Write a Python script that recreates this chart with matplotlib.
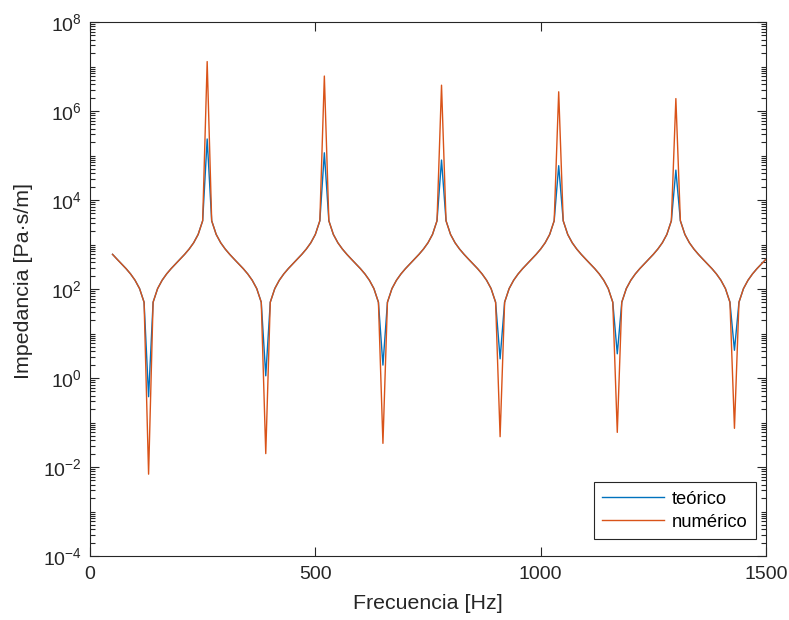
import numpy as np
import matplotlib
matplotlib.use("Agg")
import matplotlib.pyplot as plt
from matplotlib.ticker import FixedLocator, FixedFormatter, NullFormatter, LogLocator

plt.rcParams['font.family'] = ['Liberation Sans', 'DejaVu Sans']
plt.rcParams['mathtext.fontset'] = 'custom'
plt.rcParams['mathtext.rm'] = 'Liberation Sans'
plt.rcParams['mathtext.it'] = 'Liberation Sans'
plt.rcParams['mathtext.default'] = 'regular'

# Frequency grid (Hz), sampled every 10 Hz from 50 to 1500
frecuencia = np.arange(50, 1501, 10)

# Teórico
teorico = [
    601, 468, 368, 287, 218, 157, 102, 50.4, 0.38, 50.4, 102, 157, 218, 287, 368, 468, 601, 791, 1094, 1684, 3418,
    2.35e5, 3418, 1684, 1094, 791, 601, 468, 368, 287, 218, 157, 102, 50.4, 1.12, 50.4, 102, 157, 218, 287, 368, 468, 601, 791, 1094, 1684, 3418,
    1.15e5, 3418, 1684, 1094, 791, 601, 468, 368, 287, 218, 157, 102, 50.4, 1.95, 50.4, 102, 157, 218, 287, 368, 468, 601, 791, 1094, 1684, 3418,
    7.9e4, 3418, 1684, 1094, 791, 601, 468, 368, 287, 218, 157, 102, 50.4, 2.7, 50.4, 102, 157, 218, 287, 368, 468, 601, 791, 1094, 1684, 3418,
    5.9e4, 3418, 1684, 1094, 791, 601, 468, 368, 287, 218, 157, 102, 50.4, 3.5, 50.4, 102, 157, 218, 287, 368, 468, 601, 791, 1094, 1684, 3418,
    4.7e4, 3418, 1684, 1094, 791, 601, 468, 368, 287, 218, 157, 102, 50.4, 4.2, 50.4, 102, 157, 218, 287, 368, 468,
]

# Numérico
numerico = [
    601, 468, 368, 287, 218, 157, 102, 50.4, 0.0069, 50.4, 102, 157, 218, 287, 368, 468, 601, 791, 1094, 1684, 3418,
    1.29e7, 3418, 1684, 1094, 791, 601, 468, 368, 287, 218, 157, 102, 50.4, 0.020, 50.4, 102, 157, 218, 287, 368, 468, 601, 791, 1094, 1684, 3418,
    6.1e6, 3418, 1684, 1094, 791, 601, 468, 368, 287, 218, 157, 102, 50.4, 0.034, 50.4, 102, 157, 218, 287, 368, 468, 601, 791, 1094, 1684, 3418,
    3.8e6, 3418, 1684, 1094, 791, 601, 468, 368, 287, 218, 157, 102, 50.4, 0.048, 50.4, 102, 157, 218, 287, 368, 468, 601, 791, 1094, 1684, 3418,
    2.7e6, 3418, 1684, 1094, 791, 601, 468, 368, 287, 218, 157, 102, 50.4, 0.060, 50.4, 102, 157, 218, 287, 368, 468, 601, 791, 1094, 1684, 3418,
    1.9e6, 3418, 1684, 1094, 791, 601, 468, 368, 287, 218, 157, 102, 50.4, 0.074, 50.4, 102, 157, 218, 287, 368, 468,
]

series_labels = ['teórico', 'numérico']
xticks = [0, 500, 1000, 1500]
yticks = [1e-4, 1e-2, 1e0, 1e2, 1e4, 1e6, 1e8]
ytick_labels = [r'$10^{-4}$', r'$10^{-2}$', r'$10^{0}$', r'$10^{2}$', r'$10^{4}$', r'$10^{6}$', r'$10^{8}$']

axcol = '#262626'
fig = plt.figure(figsize=(7.89, 6.20), dpi=100)
ax = fig.add_axes([90/789, 64/620, 676/789, 534/620])

ax.plot(frecuencia, teorico, color='#0072BD', lw=1.0, label=series_labels[0])
ax.plot(frecuencia, numerico, color='#D95319', lw=1.0, label=series_labels[1])

ax.set_yscale('log')
ax.set_xlim(0, 1500)
ax.set_ylim(1e-4, 1e8)

ax.xaxis.set_major_locator(FixedLocator(xticks))
ax.yaxis.set_major_locator(FixedLocator(yticks))
ax.yaxis.set_major_formatter(FixedFormatter(ytick_labels))
ax.yaxis.set_minor_locator(LogLocator(base=10, subs=np.arange(1, 10), numticks=50))
ax.yaxis.set_minor_formatter(NullFormatter())

ax.tick_params(which='both', direction='in', top=True, right=True, colors=axcol,
               labelcolor=axcol, width=0.8)
ax.tick_params(which='major', length=6.5, labelsize=14)
ax.tick_params(axis='x', which='major', pad=7)
ax.tick_params(axis='y', which='major', pad=6)
ax.tick_params(which='minor', length=3.5)

for s in ax.spines.values():
    s.set_color(axcol)
    s.set_linewidth(0.8)

ax.set_xlabel('Frecuencia [Hz]', fontsize=15.4, color=axcol)
ax.set_ylabel('Impedancia [Pa·s/m]', fontsize=15.4, color=axcol)
ax.xaxis.set_label_coords(0.5, -0.072)
ax.yaxis.set_label_coords(-0.085, 0.515)

leg = ax.legend(loc='lower right', bbox_to_anchor=(0.9848, 0.0318), borderaxespad=0,
                fontsize=13.2, frameon=True, fancybox=False, framealpha=1,
                edgecolor=axcol, handlelength=3.4, handletextpad=0.4,
                borderpad=0.45, labelspacing=0.33)
leg.get_frame().set_linewidth(0.8)
for t in leg.get_texts():
    t.set_color('black')

fig.savefig('out.png', dpi=100)
